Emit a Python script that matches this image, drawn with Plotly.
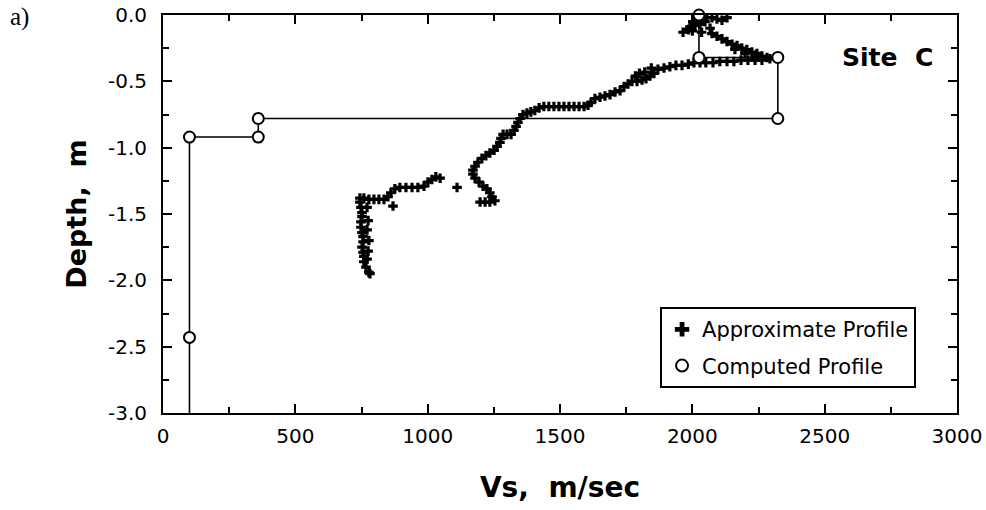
import plotly.graph_objects as go

# ---------------- data ----------------
# Approximate profile (Vs in m/s, depth in m)
approx_vs = [
    1965, 1985, 1991, 2002, 2017, 2036, 2055, 2074, 2093, 2112, 2131, 2010, 2029, 2048, 2067, 2000, 2035,
    2074, 2093, 2112, 2131, 2150, 2169, 2187, 2206, 2225, 2244, 2263, 2282, 2293, 2161, 2199, 2237,
    2263, 2237, 2210, 2184, 2157, 2131, 2104, 2078, 2051, 2029, 2006, 1985, 1961, 1938, 1915, 1893,
    1870, 1855, 1840, 1825, 1810, 1791, 1772, 1757, 1742, 1727, 1708, 1689, 1670, 1651, 1632, 1617,
    1606, 1591, 1572, 1553, 1534, 1515, 1496, 1477, 1458, 1439, 1421, 1405, 1390, 1375, 1360, 1349,
    1341, 1334, 1326, 1315, 1300, 1285, 1277, 1273, 1262, 1251, 1235, 1220, 1205, 1190, 1179, 1171,
    1171, 1179, 1194, 1209, 1224, 1235, 1243, 1235, 1217, 1198, 1254,
    1800, 1820, 1785, 1845,
    1111,
    1047, 1031, 1016, 1001, 986, 963, 941, 918, 895, 876, 861, 850, 835, 816, 797, 778, 759, 744, 869,
    744, 748, 752, 752, 748, 748, 752, 756, 756, 752, 756, 759, 759, 767, 778, 782,
    771, 775, 771, 778, 775, 771,
]
approx_depth = [
    -0.13, -0.11, -0.09, -0.05, -0.03, -0.02, -0.02, -0.02, -0.03, -0.04, -0.02, -0.08, -0.07, -0.05, -0.10, -0.12, -0.13,
    -0.14, -0.16, -0.18, -0.20, -0.22, -0.23, -0.25, -0.26, -0.28, -0.29, -0.31, -0.32, -0.33, -0.26, -0.29, -0.32,
    -0.34, -0.34, -0.34, -0.34, -0.35, -0.35, -0.35, -0.36, -0.36, -0.36, -0.36, -0.37, -0.38, -0.38, -0.39, -0.40,
    -0.41, -0.44, -0.46, -0.48, -0.49, -0.50, -0.50, -0.52, -0.54, -0.57, -0.58, -0.60, -0.61, -0.62, -0.63, -0.66,
    -0.68, -0.69, -0.69, -0.69, -0.69, -0.69, -0.69, -0.69, -0.69, -0.69, -0.70, -0.72, -0.73, -0.74, -0.75, -0.78,
    -0.81, -0.84, -0.87, -0.90, -0.90, -0.90, -0.93, -0.96, -0.99, -1.02, -1.04, -1.06, -1.08, -1.11, -1.14, -1.17,
    -1.20, -1.23, -1.26, -1.29, -1.31, -1.34, -1.37, -1.41, -1.41, -1.41, -1.40,
    -0.44, -0.43, -0.46, -0.40,
    -1.30,
    -1.23, -1.22, -1.24, -1.26, -1.29, -1.30, -1.30, -1.30, -1.30, -1.31, -1.34, -1.37, -1.39, -1.39, -1.39, -1.39, -1.38, -1.38, -1.44,
    -1.41, -1.45, -1.49, -1.52, -1.56, -1.60, -1.64, -1.67, -1.71, -1.75, -1.79, -1.82, -1.86, -1.90, -1.94, -1.95,
    -1.45, -1.55, -1.62, -1.70, -1.78, -1.84,
]

# Computed (layered) profile: step line and its layer-boundary points
computed_line_vs = [2025, 2025, 2323, 2323, 360, 360, 100, 100, 100]
computed_line_depth = [0.0, -0.32, -0.32, -0.78, -0.78, -0.92, -0.92, -2.43, -3.0]
computed_pts_vs = [2025, 2025, 2323, 2323, 360, 360, 100, 100]
computed_pts_depth = [0.0, -0.32, -0.32, -0.78, -0.78, -0.92, -0.92, -2.43]

x_ticks = [0, 500, 1000, 1500, 2000, 2500, 3000]
x_tick_labels = ["0", "500", "1000", "1500", "2000", "2500", "3000"]
y_ticks = [0.0, -0.5, -1.0, -1.5, -2.0, -2.5, -3.0]
y_tick_labels = ["0.0", "-0.5", "-1.0", "-1.5", "-2.0", "-2.5", "-3.0"]

FONT = "DejaVu Sans, Verdana, sans-serif"

fig = go.Figure()

fig.add_trace(go.Scatter(
    x=computed_line_vs, y=computed_line_depth, mode="lines",
    line=dict(color="black", width=1.6), showlegend=False, hoverinfo="skip",
))
fig.add_trace(go.Scatter(
    x=approx_vs, y=approx_depth, mode="markers", name="Approximate Profile",
    legendgroup="a",
    marker=dict(symbol="cross", size=8, color="black", line=dict(width=0)),
))
fig.add_trace(go.Scatter(
    x=computed_pts_vs, y=computed_pts_depth, mode="markers", name="Computed Profile",
    legendgroup="b",
    marker=dict(symbol="circle", size=11, color="white", line=dict(color="black", width=2)),
    cliponaxis=False,
))

axis_common = dict(
    showgrid=False, zeroline=False, showline=True, linecolor="black", linewidth=2,
    mirror="allticks", ticks="inside", ticklen=9, tickwidth=2, tickcolor="black",
    tickfont=dict(family=FONT, size=20, color="black"),
    ticklabeloverflow="allow",
)

fig.update_xaxes(
    range=[0, 3000], tickvals=x_ticks, ticktext=x_tick_labels,
    minor=dict(dtick=250, ticks="inside", ticklen=6, tickwidth=2, tickcolor="black"),
    title=dict(text="<b>Vs,  m/sec</b>", font=dict(family=FONT, size=28, color="black"), standoff=30),
    ticklabelstandoff=4,
    **axis_common,
)
fig.update_yaxes(
    range=[-3, 0], tickvals=y_ticks, ticktext=y_tick_labels,
    minor=dict(dtick=0.25, ticks="inside", ticklen=6, tickwidth=2, tickcolor="black"),
    title=dict(text="<b>Depth,  m</b>", font=dict(family=FONT, size=27, color="black"), standoff=14),
    ticklabelstandoff=10,
    **axis_common,
)

fig.update_layout(
    width=986, height=510,
    margin=dict(l=163, r=29, t=15, b=97, autoexpand=False),
    paper_bgcolor="white", plot_bgcolor="white",
    font=dict(family=FONT, color="black"),
    legend=dict(
        x=0.626, y=0.266, xanchor="left", yanchor="top",
        bordercolor="black", borderwidth=2, bgcolor="white",
        font=dict(family=FONT, size=21, color="black"),
        itemsizing="constant", tracegroupgap=6,
    ),
    annotations=[
        dict(text="<b>Site  C</b>", x=0.972, y=0.894, xref="paper", yref="paper",
             xanchor="right", yanchor="middle", showarrow=False,
             font=dict(family=FONT, size=25, color="black")),
        dict(text="a)", x=-0.195, y=1.035, xref="paper", yref="paper",
             xanchor="left", yanchor="top", showarrow=False,
             font=dict(family="Liberation Serif, Times New Roman, serif", size=25, color="black")),
    ],
)

fig.write_html("out.html", config={"displayModeBar": False},
               post_script="document.body.style.margin='0';")
